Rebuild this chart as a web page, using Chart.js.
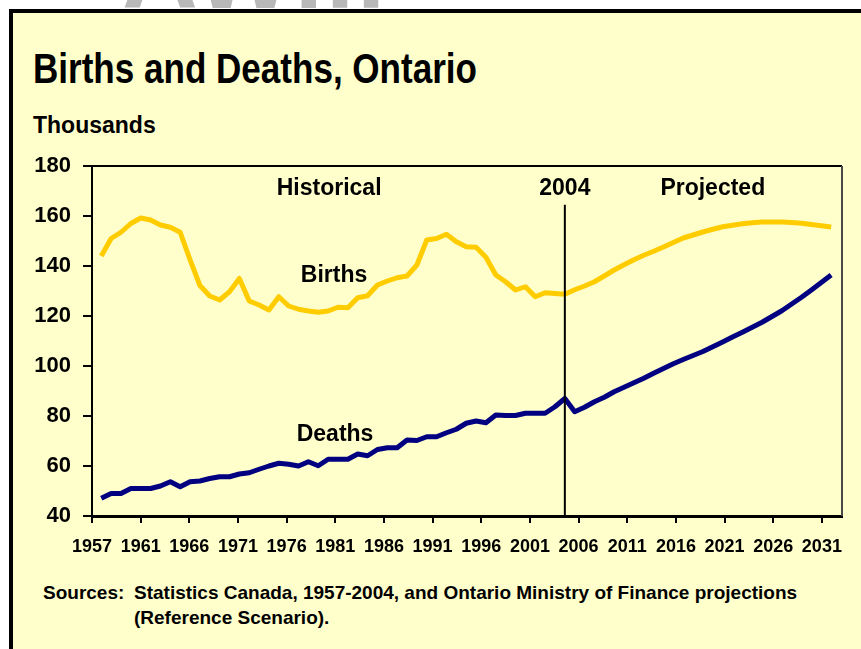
<!DOCTYPE html>
<html>
<head>
<meta charset="utf-8">
<script src="https://cdn.jsdelivr.net/npm/chart.js@4"></script>
<style>
  html, body { margin:0; padding:0; width:861px; height:649px; overflow:hidden; background:#ffffff; }
  #frame { position:absolute; left:9px; top:9px; width:900px; height:700px; background:#FFFFCC;
           border-left:4px solid #000; border-top:4px solid #000; box-sizing:border-box; }
  #wm { position:absolute; left:0; top:0; width:861px; height:9px; overflow:hidden; }
  #wm span { position:absolute; left:122px; top:-88px; font:bold 105px "Liberation Sans", Arial, sans-serif; color:#b8b8b8; letter-spacing:2px; }
  .t { position:absolute; color:#000; white-space:nowrap; font-weight:bold; }
  #title { left:33px; top:47px; font-size:43px; line-height:43px; font-family:"Liberation Sans",Arial,sans-serif;
           transform:scaleX(0.815); transform-origin:0 0; }
  #units { left:33px; top:114px; font-size:23px; line-height:23px; font-family:"Liberation Sans",Arial,sans-serif; }
  .src { font-size:19px; line-height:19px; font-family:"Liberation Sans",Arial,sans-serif; }
  #c { position:absolute; left:0; top:0; }
</style>
</head>
<body>
<div id="wm"><span>AWill</span></div>
<div id="frame"></div>
<div class="t" id="title">Births and Deaths, Ontario</div>
<div class="t" id="units">Thousands</div>
<div class="t src" style="left:43px; top:583px;">Sources:</div>
<div class="t src" style="left:134px; top:583px;">Statistics Canada, 1957-2004, and Ontario Ministry of Finance projections</div>
<div class="t src" style="left:134px; top:608px;">(Reference Scenario).</div>
<canvas id="c" width="861" height="649"></canvas>
<script>
// ---- data (thousands) ----
const years = [1957,1958,1959,1960,1961,1962,1963,1964,1965,1966,1967,1968,1969,1970,
  1971,1972,1973,1974,1975,1976,1977,1978,1979,1980,1981,1982,1983,1984,1985,1986,1987,
  1988,1989,1990,1991,1992,1993,1994,1995,1996,1997,1998,1999,2000,2001,2002,2003,2004,
  2005,2006,2007,2008,2009,2010,2011,2012,2013,2014,2015,2016,2017,2018,2019,2020,2021,
  2022,2023,2024,2025,2026,2027,2028,2029,2030,2031];

const births = [144,151,153.5,157,159.2,158.4,156.4,155.5,153.5,142.5,132.2,128,126.4,129.7,
  135,126,124.4,122.4,127.7,124,122.7,122,121.5,122,123.5,123.3,127.3,128.1,132.4,134,135.3,
  136,140.4,150.4,151,152.7,149.7,147.7,147.5,143.5,136.4,133.7,130.4,131.7,127.7,129.3,129,128.7,
  130.5,132,133.7,136,138.4,140.5,142.5,144.3,145.9,147.6,149.4,151.2,152.4,153.6,154.7,155.7,156.3,
  156.9,157.3,157.6,157.6,157.6,157.4,157.1,156.6,156.1,155.6];

const deaths = [47.1,49,49,51,51,51,52,53.7,51.7,53.7,54,55,55.7,55.7,
  56.8,57.3,58.7,60,61.1,60.7,60,61.7,60.1,62.7,62.7,62.7,64.8,64.1,66.6,67.3,67.3,
  70.4,70.2,71.7,71.7,73.3,74.7,77.1,78,77.3,80.4,80.2,80.2,81.1,81.1,81.1,83.7,87,
  81.7,83.5,85.7,87.5,89.7,91.5,93.3,95.1,97.1,99,100.9,102.6,104.2,105.8,107.7,109.6,111.6,
  113.5,115.5,117.5,119.8,122.1,124.8,127.5,130.4,133.4,136.4];

const xTickLabels = ['1957','1961','1966','1971','1976','1981','1986','1991','1996',
  '2001','2006','2011','2016','2021','2026','2031'];

const splitYear = 2004;
const annotations = [
  {text:'Historical', x:1980.1, y:170.8},
  {text:'2004',       x:2004,   y:170.8},
  {text:'Projected',  x:2019.0, y:170.8},
  {text:'Births',     x:1980.6, y:136.2},
  {text:'Deaths',     x:1980.7, y:72.7}
];

// ---- axis layout ----
const xMin = 1956.06, xMax = 2032.1;
const tickStart = 1956.06, tickEnd = 2030.06;
const tickStep = (tickEnd - tickStart) / (xTickLabels.length - 1);

const ARIAL = '"Liberation Sans", Arial, sans-serif';

const extras = {
  id:'extras',
  afterDatasetsDraw(chart) {
    const {ctx, chartArea:a, scales:{x, y}} = chart;
    ctx.save();
    ctx.lineWidth = 2;
    ctx.strokeStyle = '#000';
    ctx.beginPath(); ctx.moveTo(a.left, a.top); ctx.lineTo(a.right, a.top); ctx.stroke();
    ctx.strokeStyle = '#4a4a4a';
    ctx.beginPath(); ctx.moveTo(a.right, a.top); ctx.lineTo(a.right, a.bottom); ctx.stroke();
    const px = x.getPixelForValue(splitYear);
    ctx.strokeStyle = '#000';
    ctx.lineWidth = 2;
    ctx.beginPath(); ctx.moveTo(px, y.getPixelForValue(164.5)); ctx.lineTo(px, a.bottom); ctx.stroke();
    ctx.fillStyle = '#000';
    ctx.font = 'bold 23px ' + ARIAL;
    ctx.textAlign = 'center';
    ctx.textBaseline = 'middle';
    annotations.forEach(an => ctx.fillText(an.text, x.getPixelForValue(an.x), y.getPixelForValue(an.y)));
    ctx.restore();
  }
};

new Chart(document.getElementById('c'), {
  type:'line',
  data:{
    datasets:[
      {label:'Births', data:years.map((yr,i)=>({x:yr, y:births[i]})), borderColor:'#FFCC00',
       borderWidth:5, pointRadius:0, tension:0, borderJoinStyle:'round', fill:false},
      {label:'Deaths', data:years.map((yr,i)=>({x:yr, y:deaths[i]})), borderColor:'#000080',
       borderWidth:5, pointRadius:0, tension:0, borderJoinStyle:'round', fill:false}
    ]
  },
  options:{
    responsive:false,
    animation:false,
    events:[],
    layout:{padding:{top:166, right:19, bottom:0, left:0}},
    plugins:{legend:{display:false}, title:{display:false}, tooltip:{enabled:false}},
    scales:{
      x:{
        type:'linear', min:xMin, max:xMax,
        afterBuildTicks:(s)=>{ s.ticks = xTickLabels.map((l,i)=>({value: tickStart + i*tickStep})); },
        afterFit:(s)=>{ s.height = 133; },
        ticks:{ callback:(v,i)=>xTickLabels[i], color:'#000', maxRotation:0, autoSkip:false, padding:13,
                font:{family:ARIAL, weight:'bold', size:18} },
        grid:{ drawOnChartArea:false, drawTicks:true, tickLength:7, color:'#000', lineWidth:2 },
        border:{ color:'#000', width:3 }
      },
      y:{
        min:40, max:180,
        afterFit:(s)=>{ s.width = 92; },
        ticks:{ stepSize:20, color:'#000', padding:12, font:{family:ARIAL, weight:'bold', size:22} },
        grid:{ drawOnChartArea:false, drawTicks:true, tickLength:9, color:'#000', lineWidth:2 },
        border:{ color:'#000', width:2 }
      }
    }
  },
  plugins:[extras]
});
</script>
</body>
</html>
